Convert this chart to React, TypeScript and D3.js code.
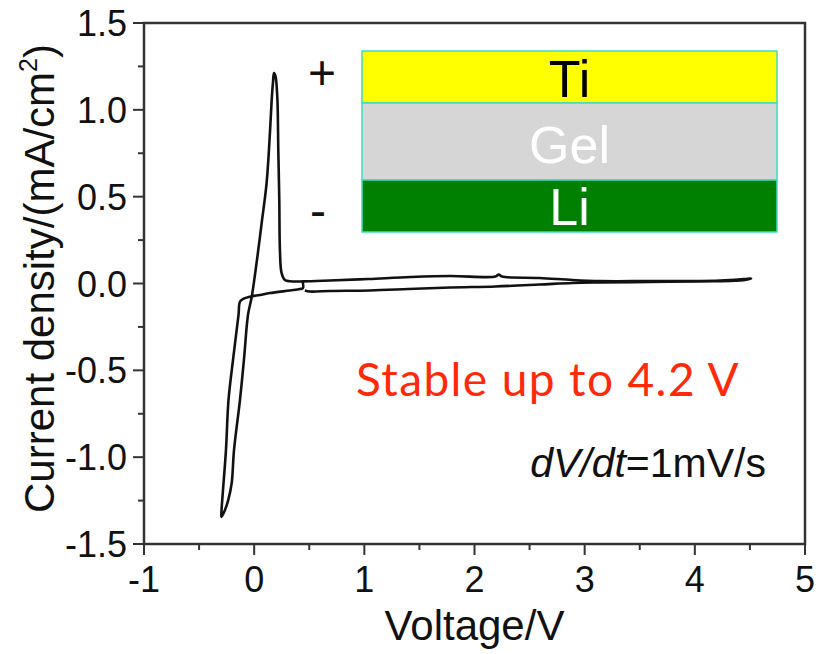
import React from 'react';
import { scaleLinear, line, range, curveCatmullRom } from 'd3';

const svgWidth = 829;
const svgHeight = 654;

const margin = { left: 144, right: 24, top: 23, bottom: 110 };
const plotRight = svgWidth - margin.right;
const plotBottom = svgHeight - margin.bottom;

// CV scan in scan order (V, mA/cm2)
const voltage = [
  0.44, 0.443, 0.415, 0.325, 0.143, 0.053, -0.038, -0.1, -0.129, -0.142,
  -0.192, -0.233, -0.256, -0.283, -0.297, -0.297,
  -0.265, -0.235, -0.204, -0.183, -0.129, -0.093, -0.056, -0.022, 0.03, 0.068, 0.113,
  0.143, 0.159, 0.171, 0.18,
  0.193, 0.21, 0.219, 0.228, 0.234, 0.249, 0.28, 0.325,
  0.443, 0.688, 1.04, 1.42, 1.78, 2.19, 2.22, 2.25, 2.59, 2.89, 3.14, 3.59, 4.05,
  4.32, 4.45, 4.51,
  4.41, 4.05, 3.59, 3.14, 2.89, 2.59, 2.19, 1.78, 1.4, 1.05, 0.688, 0.506, 0.46,
];
const current = [
  0.01, -0.026, -0.032, -0.04, -0.055, -0.066, -0.076, -0.089, -0.105, -0.181,
  -0.44, -0.671, -0.959, -1.19, -1.315, -1.344,
  -1.304, -1.246, -1.149, -0.959, -0.671, -0.44, -0.181, -0.076, 0.158, 0.348, 0.579,
  0.866, 1.056, 1.16, 1.212,
  1.195, 1.074, 0.769, 0.48, 0.19, 0.06, 0.02, 0.013,
  0.012, 0.017, 0.026, 0.037, 0.043, 0.04, 0.052, 0.04, 0.032, 0.02, 0.014, 0.014, 0.014,
  0.02, 0.026, 0.029,
  0.017, 0.012, 0.009, 0.006, 0.003, -0.006, -0.017, -0.023, -0.032, -0.04, -0.043, -0.046, -0.04,
];

const xTicks = [-1, 0, 1, 2, 3, 4, 5];
const yTicks = [1.5, 1.0, 0.5, 0.0, -0.5, -1.0, -1.5];

const layers = ['Ti', 'Gel', 'Li'];
const layerColors = ['#ffff00', '#d6d6d6', '#008000'];
const layerTextColors = ['#000000', '#ffffff', '#ffffff'];

const xScale = scaleLinear().domain([-1, 5]).range([margin.left, plotRight]);
const yScale = scaleLinear().domain([-1.5, 1.5]).range([plotBottom, margin.top]);

const font = '"Liberation Sans", Arial, sans-serif';

export default function App() {
  const points = voltage.map((v, i) => [v, current[i]] as [number, number]);
  const cvLine = line<[number, number]>()
    .x((d) => xScale(d[0]))
    .y((d) => yScale(d[1]))
    .curve(curveCatmullRom.alpha(0.5));

  const xMinor = range(-0.5, 5, 1);
  const yMinor = range(-1.25, 1.5, 0.5);

  // inset stack: layer heights in px
  const insetX = 362;
  const insetW = 415;
  const layerTops = [51, 103, 180];
  const layerHeights = [52, 77, 52];
  const layerBaselines = [97, 163, 225];

  return (
    <svg
      width={svgWidth}
      height={svgHeight}
      style={{ position: 'absolute', left: 0, top: 0, background: '#fff' }}
    >
      <rect width={svgWidth} height={svgHeight} fill="#fff" />

      {/* frame */}
      <rect
        x={margin.left}
        y={margin.top}
        width={plotRight - margin.left}
        height={plotBottom - margin.top}
        fill="none"
        stroke="#333"
        strokeWidth={2.5}
      />

      {/* x ticks */}
      {xTicks.map((t) => (
        <g key={'x' + t}>
          <line x1={xScale(t)} x2={xScale(t)} y1={plotBottom} y2={plotBottom + 11} stroke="#333" strokeWidth={2} />
          <text x={xScale(t)} y={plotBottom + 48} fontFamily={font} fontSize={36} textAnchor="middle" fill="#111">
            {t}
          </text>
        </g>
      ))}
      {xMinor.map((t) => (
        <line key={'xm' + t} x1={xScale(t)} x2={xScale(t)} y1={plotBottom} y2={plotBottom + 6} stroke="#333" strokeWidth={2} />
      ))}

      {/* y ticks */}
      {yTicks.map((t) => (
        <g key={'y' + t}>
          <line x1={margin.left - 11} x2={margin.left} y1={yScale(t)} y2={yScale(t)} stroke="#333" strokeWidth={2} />
          <text x={margin.left - 17} y={yScale(t) + 13} fontFamily={font} fontSize={36} textAnchor="end" fill="#111">
            {t.toFixed(1)}
          </text>
        </g>
      ))}
      {yMinor.map((t) => (
        <line key={'ym' + t} x1={margin.left - 6} x2={margin.left} y1={yScale(t)} y2={yScale(t)} stroke="#333" strokeWidth={2} />
      ))}

      {/* axis titles */}
      <text x={(margin.left + plotRight) / 2} y={640} fontFamily={font} fontSize={42} textAnchor="middle" fill="#111">
        Voltage/V
      </text>
      <text
        transform={`translate(54, ${(margin.top + plotBottom) / 2 - 5}) rotate(-90)`}
        fontFamily={font}
        fontSize={42}
        textAnchor="middle"
        fill="#111"
      >
        Current density/(mA/cm
        <tspan dy={-17} fontSize={25}>2</tspan>
        <tspan dy={17}>)</tspan>
      </text>

      {/* CV curve */}
      <path d={cvLine(points) ?? ''} fill="none" stroke="#111" strokeWidth={2.6} strokeLinejoin="round" />

      {/* inset */}
      {layers.map((name, i) => (
        <g key={name}>
          <rect
            x={insetX}
            y={layerTops[i]}
            width={insetW}
            height={layerHeights[i]}
            fill={layerColors[i]}
            stroke="#3fdcbc"
            strokeWidth={1.5}
          />
          <text x={insetX + insetW / 2} y={layerBaselines[i]} fontFamily={font} fontSize={52} textAnchor="middle" fill={layerTextColors[i]}>
            {name}
          </text>
        </g>
      ))}
      <text x={322} y={89} fontFamily={font} fontSize={48} textAnchor="middle" fill="#111">+</text>
      <text x={318} y={227} fontFamily={font} fontSize={48} textAnchor="middle" fill="#111">-</text>

      {/* annotations */}
      <text
        x={548}
        y={396}
        fontFamily='Lato, "Open Sans", sans-serif'
        fontSize={46}
        letterSpacing={1.4}
        textAnchor="middle"
        fill="#ff2a0a"
      >
        Stable up to 4.2 V
      </text>
      <text x={766} y={477} fontFamily={font} fontSize={41} textAnchor="end" fill="#111">
        <tspan fontStyle="italic">dV/dt</tspan>=1mV/s
      </text>
    </svg>
  );
}
